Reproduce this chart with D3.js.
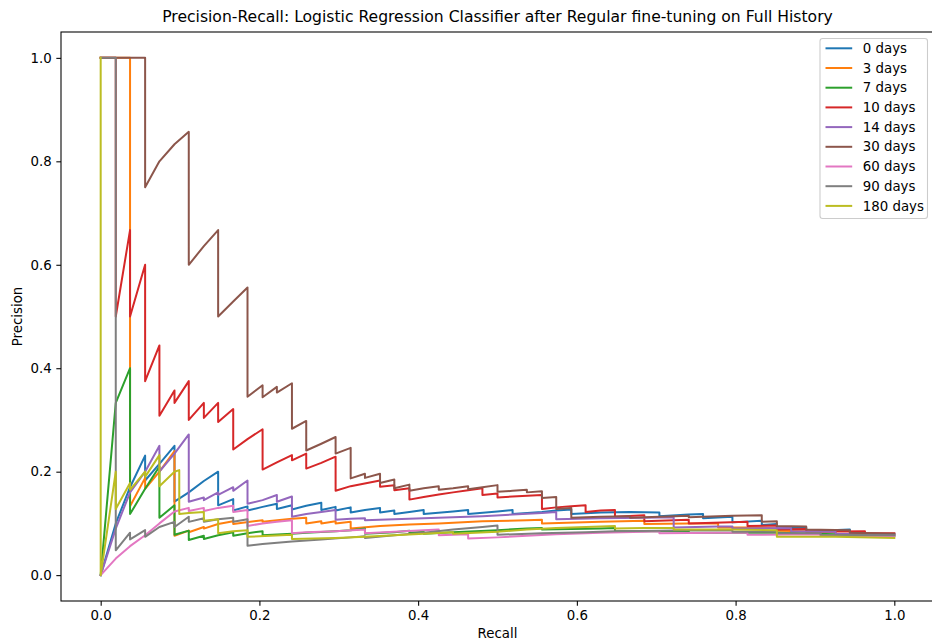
<!DOCTYPE html>
<html>
<head>
<meta charset="utf-8">
<script src="https://cdn.jsdelivr.net/npm/d3@7"></script>
<style>
  html, body { margin: 0; padding: 0; background: #fff; }
  svg { display: block; font-family: "DejaVu Sans", sans-serif; }
</style>
</head>
<body>
<svg id="chart" width="932" height="644"></svg>
<script>
// Precision-recall curves, one per look-back window: [recall, precision] vertices
const seriesNames = ["0 days", "3 days", "7 days", "10 days", "14 days", "30 days", "60 days", "90 days", "180 days"];
const seriesColors = ["#1f77b4", "#ff7f0e", "#2ca02c", "#d62728", "#9467bd", "#8c564b", "#e377c2", "#7f7f7f", "#bcbd22"];
const xTickValues = [0, 0.2, 0.4, 0.6, 0.8, 1.0];
const yTickValues = [0, 0.2, 0.4, 0.6, 0.8, 1.0];

const curve0 = [[0,0],[0.019,0.1],[0.037,0.17],[0.056,0.231],[0.056,0.183],[0.074,0.215],[0.093,0.25],[0.093,0.142],[0.111,0.16],[0.130,0.182],[0.148,0.2],[0.148,0.135],[0.167,0.147],[0.167,0.125],[0.185,0.133],[0.185,0.125],[0.204,0.132],[0.222,0.138],[0.222,0.128],[0.241,0.135],[0.241,0.127],[0.259,0.134],[0.278,0.14],[0.278,0.126],[0.296,0.132],[0.296,0.125],[0.315,0.131],[0.315,0.121],[0.333,0.126],[0.352,0.13],[0.352,0.121],[0.370,0.125],[0.370,0.118],[0.389,0.122],[0.407,0.126],[0.407,0.118],[0.444,0.123],[0.463,0.126],[0.463,0.118],[0.500,0.123],[0.519,0.126],[0.519,0.118],[0.556,0.122],[0.574,0.125],[0.593,0.127],[0.593,0.118],[0.630,0.121],[0.667,0.122],[0.704,0.121],[0.704,0.114],[0.741,0.117],[0.759,0.118],[0.759,0.11],[0.796,0.113],[0.796,0.102],[0.833,0.105],[0.833,0.097],[0.852,0.099],[0.852,0.09],[0.889,0.092],[0.889,0.085],[0.944,0.088],[0.944,0.081],[1,0.079]];

const curve3 = [[0,1],[0.037,1],[0.037,0.133],[0.056,0.188],[0.056,0.167],[0.074,0.2],[0.093,0.24],[0.093,0.076],[0.111,0.086],[0.111,0.083],[0.130,0.093],[0.130,0.09],[0.148,0.099],[0.167,0.104],[0.167,0.099],[0.204,0.106],[0.204,0.103],[0.241,0.109],[0.259,0.111],[0.259,0.1],[0.278,0.104],[0.278,0.1],[0.296,0.104],[0.296,0.1],[0.315,0.103],[0.315,0.09],[0.352,0.095],[0.389,0.098],[0.426,0.1],[0.481,0.104],[0.537,0.106],[0.556,0.107],[0.556,0.1],[0.630,0.103],[0.685,0.105],[0.685,0.099],[0.741,0.1],[0.778,0.1],[0.778,0.092],[0.833,0.092],[0.852,0.09],[0.852,0.086],[0.926,0.084],[0.926,0.078],[1,0.076]];

const curve7 = [[0,0],[0.019,0.333],[0.037,0.4],[0.037,0.118],[0.056,0.167],[0.074,0.21],[0.074,0.111],[0.093,0.135],[0.093,0.078],[0.111,0.086],[0.111,0.068],[0.130,0.076],[0.130,0.07],[0.148,0.077],[0.167,0.083],[0.167,0.076],[0.185,0.081],[0.204,0.085],[0.204,0.077],[0.241,0.08],[0.259,0.082],[0.296,0.085],[0.315,0.087],[0.333,0.09],[0.333,0.08],[0.370,0.083],[0.389,0.086],[0.389,0.082],[0.407,0.084],[0.407,0.08],[0.444,0.083],[0.500,0.087],[0.537,0.09],[0.556,0.091],[0.556,0.088],[0.630,0.09],[0.648,0.091],[0.648,0.085],[0.722,0.085],[0.741,0.085],[0.741,0.082],[0.852,0.082],[0.926,0.079],[1,0.076]];

const curve10 = [[0,1],[0.019,1],[0.019,0.5],[0.037,0.667],[0.037,0.5],[0.056,0.6],[0.056,0.375],[0.074,0.444],[0.074,0.308],[0.093,0.357],[0.093,0.333],[0.111,0.375],[0.111,0.3],[0.130,0.333],[0.130,0.304],[0.148,0.333],[0.148,0.296],[0.167,0.321],[0.167,0.243],[0.185,0.263],[0.204,0.282],[0.204,0.204],[0.222,0.218],[0.241,0.232],[0.241,0.222],[0.259,0.235],[0.259,0.206],[0.278,0.217],[0.296,0.229],[0.296,0.163],[0.315,0.172],[0.352,0.183],[0.352,0.171],[0.370,0.174],[0.370,0.164],[0.389,0.168],[0.389,0.146],[0.407,0.151],[0.426,0.156],[0.444,0.16],[0.463,0.164],[0.481,0.168],[0.481,0.155],[0.500,0.158],[0.500,0.15],[0.519,0.152],[0.556,0.155],[0.556,0.128],[0.574,0.131],[0.593,0.133],[0.611,0.135],[0.611,0.122],[0.630,0.125],[0.648,0.126],[0.648,0.113],[0.685,0.116],[0.685,0.104],[0.722,0.106],[0.741,0.107],[0.741,0.1],[0.815,0.103],[0.815,0.095],[0.852,0.096],[0.852,0.088],[0.889,0.089],[0.889,0.084],[0.963,0.085],[0.963,0.081],[1,0.081]];

const curve14 = [[0,0],[0.019,0.09],[0.037,0.16],[0.056,0.2],[0.074,0.25],[0.074,0.2],[0.093,0.235],[0.111,0.272],[0.111,0.142],[0.130,0.15],[0.130,0.145],[0.148,0.16],[0.148,0.155],[0.167,0.17],[0.167,0.163],[0.185,0.183],[0.185,0.138],[0.204,0.145],[0.222,0.155],[0.222,0.142],[0.241,0.152],[0.241,0.113],[0.259,0.118],[0.278,0.122],[0.296,0.126],[0.296,0.107],[0.315,0.109],[0.333,0.11],[0.333,0.106],[0.370,0.108],[0.407,0.11],[0.444,0.112],[0.481,0.114],[0.519,0.117],[0.556,0.12],[0.574,0.122],[0.574,0.108],[0.630,0.11],[0.685,0.111],[0.722,0.112],[0.722,0.092],[0.778,0.094],[0.796,0.094],[0.796,0.09],[0.870,0.091],[0.870,0.085],[0.926,0.084],[0.926,0.08],[1,0.078]];

const curve30 = [[0,1],[0.056,1],[0.056,0.75],[0.074,0.8],[0.093,0.833],[0.111,0.857],[0.111,0.6],[0.130,0.636],[0.148,0.667],[0.148,0.5],[0.167,0.529],[0.185,0.556],[0.185,0.345],[0.204,0.367],[0.204,0.344],[0.222,0.364],[0.222,0.353],[0.241,0.371],[0.241,0.283],[0.259,0.298],[0.259,0.241],[0.278,0.254],[0.296,0.267],[0.296,0.235],[0.315,0.246],[0.315,0.187],[0.333,0.196],[0.333,0.188],[0.352,0.196],[0.352,0.178],[0.370,0.185],[0.370,0.168],[0.389,0.175],[0.389,0.163],[0.407,0.168],[0.426,0.172],[0.426,0.165],[0.444,0.168],[0.463,0.172],[0.463,0.166],[0.481,0.17],[0.500,0.174],[0.500,0.161],[0.519,0.163],[0.537,0.165],[0.537,0.16],[0.556,0.162],[0.556,0.149],[0.574,0.151],[0.574,0.128],[0.593,0.13],[0.593,0.111],[0.630,0.113],[0.667,0.114],[0.667,0.111],[0.704,0.113],[0.741,0.115],[0.741,0.112],[0.796,0.115],[0.833,0.116],[0.833,0.103],[0.852,0.104],[0.852,0.095],[0.889,0.094],[0.889,0.088],[0.944,0.087],[0.944,0.082],[1,0.08]];

const curve60 = [[0,0],[0.019,0.032],[0.037,0.056],[0.056,0.077],[0.074,0.1],[0.093,0.123],[0.111,0.13],[0.111,0.124],[0.130,0.13],[0.130,0.124],[0.148,0.13],[0.167,0.134],[0.167,0.122],[0.185,0.126],[0.185,0.095],[0.204,0.1],[0.222,0.103],[0.241,0.106],[0.241,0.081],[0.259,0.083],[0.296,0.085],[0.333,0.088],[0.333,0.081],[0.370,0.084],[0.407,0.087],[0.426,0.088],[0.426,0.077],[0.444,0.078],[0.463,0.079],[0.463,0.071],[0.500,0.073],[0.537,0.076],[0.574,0.079],[0.630,0.082],[0.685,0.084],[0.704,0.085],[0.704,0.081],[0.778,0.082],[0.815,0.082],[0.815,0.078],[0.907,0.079],[0.907,0.076],[1,0.075]];

const curve90 = [[0,1],[0.019,1],[0.019,0.048],[0.037,0.082],[0.037,0.069],[0.056,0.087],[0.056,0.074],[0.074,0.093],[0.093,0.103],[0.093,0.093],[0.111,0.113],[0.111,0.103],[0.130,0.11],[0.130,0.103],[0.148,0.108],[0.167,0.111],[0.167,0.103],[0.185,0.108],[0.185,0.057],[0.204,0.06],[0.241,0.065],[0.278,0.069],[0.315,0.073],[0.333,0.075],[0.333,0.072],[0.370,0.077],[0.407,0.082],[0.444,0.088],[0.481,0.093],[0.500,0.096],[0.500,0.078],[0.556,0.081],[0.611,0.083],[0.648,0.085],[0.704,0.086],[0.741,0.087],[0.796,0.087],[0.796,0.084],[0.852,0.084],[0.852,0.081],[0.907,0.081],[0.907,0.078],[1,0.077]];

const curve180 = [[0,1],[0,0],[0.019,0.2],[0.019,0.128],[0.037,0.178],[0.037,0.165],[0.056,0.2],[0.056,0.19],[0.074,0.232],[0.074,0.172],[0.093,0.2],[0.099,0.203],[0.099,0.139],[0.099,0.118],[0.111,0.12],[0.130,0.122],[0.130,0.105],[0.148,0.108],[0.148,0.081],[0.167,0.085],[0.185,0.087],[0.185,0.074],[0.241,0.078],[0.241,0.07],[0.296,0.072],[0.333,0.074],[0.370,0.077],[0.407,0.08],[0.444,0.083],[0.444,0.08],[0.500,0.084],[0.537,0.088],[0.574,0.091],[0.630,0.094],[0.648,0.095],[0.648,0.09],[0.685,0.091],[0.722,0.091],[0.722,0.088],[0.796,0.088],[0.852,0.087],[0.852,0.074],[0.926,0.074],[1,0.072]];

const curves = [curve0, curve3, curve7, curve10, curve14, curve30, curve60, curve90, curve180];

// Layout of the axes box (right spine falls just past the canvas edge)
const plotLeft = 61, plotRight = 934, plotTop = 32, plotBottom = 601;
const fontSize = 13.33;

const svg = d3.select("#chart");

const x = d3.scaleLinear().domain([-0.05, 1.05]).range([plotLeft, plotRight]);
const y = d3.scaleLinear().domain([-0.05, 1.05]).range([plotBottom, plotTop]);

svg.append("defs").append("clipPath").attr("id", "plot-clip")
  .append("rect")
  .attr("x", plotLeft).attr("y", plotTop)
  .attr("width", plotRight - plotLeft).attr("height", plotBottom - plotTop);

// Curves
const line = d3.line().x(d => x(d[0])).y(d => y(d[1]));
const curveLayer = svg.append("g").attr("clip-path", "url(#plot-clip)");
curves.forEach((pts, i) => {
  curveLayer.append("path")
    .datum(pts)
    .attr("d", line)
    .attr("fill", "none")
    .attr("stroke", seriesColors[i])
    .attr("stroke-width", 2)
    .attr("stroke-linejoin", "round")
    .attr("stroke-linecap", "square");
});

// Axes
const fmt = d3.format(".1f");
const xAxis = d3.axisBottom(x).tickValues(xTickValues).tickFormat(fmt).tickSize(4.67).tickPadding(4.67);
const yAxis = d3.axisLeft(y).tickValues(yTickValues).tickFormat(fmt).tickSize(4.67).tickPadding(4.67);

const gx = svg.append("g").attr("transform", `translate(0,${plotBottom})`).call(xAxis);
const gy = svg.append("g").attr("transform", `translate(${plotLeft},0)`).call(yAxis);
[gx, gy].forEach(g => {
  g.select(".domain").remove();
  g.selectAll(".tick line").attr("stroke", "#000").attr("stroke-width", 1.07);
  g.selectAll(".tick text").attr("fill", "#000")
    .style("font-size", fontSize + "px").style("font-family", "DejaVu Sans, sans-serif");
});

// Frame (spines)
svg.append("rect")
  .attr("x", plotLeft).attr("y", plotTop)
  .attr("width", plotRight - plotLeft).attr("height", plotBottom - plotTop)
  .attr("fill", "none").attr("stroke", "#000").attr("stroke-width", 1.07);

// Title and axis labels
svg.append("text")
  .attr("x", (plotLeft + plotRight) / 2).attr("y", 22)
  .attr("text-anchor", "middle")
  .style("font-size", "15.6px")
  .text("Precision-Recall: Logistic Regression Classifier after Regular fine-tuning on Full History");

svg.append("text")
  .attr("x", (plotLeft + plotRight) / 2).attr("y", 638)
  .attr("text-anchor", "middle")
  .style("font-size", fontSize + "px")
  .text("Recall");

svg.append("text")
  .attr("transform", `translate(22,${(plotTop + plotBottom) / 2}) rotate(-90)`)
  .attr("text-anchor", "middle")
  .style("font-size", fontSize + "px")
  .text("Precision");

// Legend
const legend = svg.append("g");
const legX = 820, legY = 38.5, legW = 107.5, rowH = 19.7;
legend.append("rect")
  .attr("x", legX).attr("y", legY)
  .attr("width", legW).attr("height", 180)
  .attr("rx", 2.7).attr("ry", 2.7)
  .attr("fill", "#fff").attr("fill-opacity", 0.8)
  .attr("stroke", "#cccccc").attr("stroke-width", 1.07);
seriesNames.forEach((name, i) => {
  const cy = 48.3 + i * rowH;
  legend.append("line")
    .attr("x1", 825.5).attr("x2", 852.2)
    .attr("y1", cy).attr("y2", cy)
    .attr("stroke", seriesColors[i]).attr("stroke-width", 2);
  legend.append("text")
    .attr("x", 862.8).attr("y", cy).attr("dy", "0.35em")
    .style("font-size", fontSize + "px")
    .text(name);
});
</script>
</body>
</html>
